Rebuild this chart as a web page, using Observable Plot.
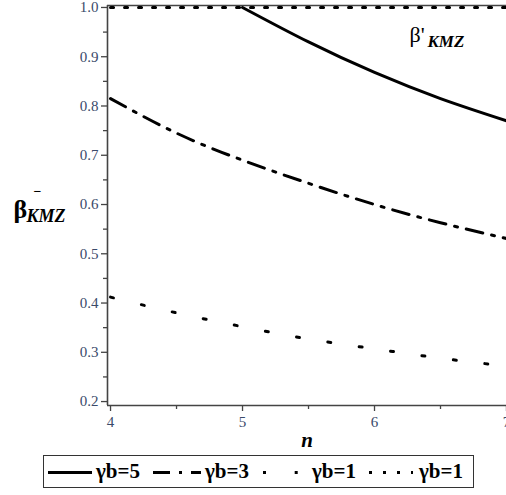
<!DOCTYPE html>
<html>
<head>
<meta charset="utf-8">
<script src="https://cdn.jsdelivr.net/npm/d3@7"></script>
<script src="https://cdn.jsdelivr.net/npm/@observablehq/plot@0.6"></script>
<style>
  html, body { margin: 0; padding: 0; background: #fff; }
  #wrap { position: relative; width: 506px; height: 495px; overflow: hidden; }
  #legend { position: absolute; left: 43px; top: 455px; width: 429px; height: 31px;
            border: 1.5px solid #333; background: #fff; }
  #legend .lab { position: absolute; top: 1px; line-height: 28px; font-size: 21px; font-weight: bold;
            font-family: "Liberation Serif", "Times New Roman", serif; color: #000; white-space: nowrap; }
  #legend svg { position: absolute; left: 0; top: 0; }
</style>
</head>
<body>
<div id="wrap"><div id="chart"></div><div id="legend"></div></div>
<script>
// ---- data ----
const nGrid = [4, 4.5, 5, 5.5, 6, 6.5, 7];
const nSolid = [5, 5.5, 6, 6.5, 7];
const gb5 = [1.0, 0.93, 0.868, 0.815, 0.77];            // γb=5 (solid)
const gb3 = [0.815, 0.745, 0.690, 0.643, 0.600, 0.563, 0.531]; // γb=3 (dash-dot)
const gb1 = [0.412, 0.380, 0.352, 0.327, 0.307, 0.288, 0.272]; // γb=1 (sparse dots)
const gb1flat = [1.0, 1.0, 1.0, 1.0, 1.0, 1.0, 1.0];     // γb=1 (dense dots, β'KMZ)
const yTicks = [0.2, 0.3, 0.4, 0.5, 0.6, 0.7, 0.8, 0.9, 1.0];
const yMinor = [0.25, 0.35, 0.45, 0.55, 0.65, 0.75, 0.85, 0.95];
const xTicks = [4, 5, 6, 7];
const xMinor = [4.5, 5.5, 6.5];
const xDomain = [3.977, 7.0];
const yDomain = [0.192, 1.004];
const legendLabels = ["γb=5", "γb=3", "γb=1", "γb=1"];

const toRows = (xs, ys) => xs.map((n, i) => ({n, v: ys[i]}));
const sSolid = toRows(nSolid, gb5);
const sDash = toRows(nGrid, gb3);
const sDot = toRows(nGrid, gb1);
const sFlat = toRows(nGrid, gb1flat);

const SERIF = "'Liberation Serif', 'Times New Roman', serif";
const tickText = "#3a4a6a";
const axisCol = "#444";

const dashes = ["none", "17 9 3 9", "3 28.7", "3 11"];

const chart = Plot.plot({
  width: 506, height: 453,
  marginLeft: 107, marginRight: 0, marginTop: 5, marginBottom: 48,
  x: {domain: xDomain},
  y: {domain: yDomain},
  style: {background: "white", overflow: "visible", fontFamily: SERIF},
  marks: [
    Plot.axisY({ticks: yTicks, tickSize: 6, tickPadding: 3, tickFormat: d3.format(".1f"),
      fontSize: 15, stroke: axisCol, fill: tickText, strokeWidth: 1.3, label: null}),
    Plot.axisY({ticks: yMinor, tickSize: 4, tickFormat: () => "", stroke: axisCol, strokeWidth: 1.3, label: null}),
    Plot.axisX({ticks: xTicks, tickSize: 6, tickPadding: 5, tickFormat: d3.format("d"),
      fontSize: 15, stroke: axisCol, fill: tickText, strokeWidth: 1.3, label: null}),
    Plot.axisX({ticks: xMinor, tickSize: 4, tickFormat: () => "", stroke: axisCol, strokeWidth: 1.3, label: null}),
    Plot.ruleX([xDomain[0]], {stroke: axisCol, strokeWidth: 1.6}),
    Plot.ruleY([yDomain[0]], {stroke: axisCol, strokeWidth: 1.6}),
    Plot.ruleY([yDomain[1]], {stroke: axisCol, strokeWidth: 1.6}),
    Plot.line(sFlat, {x: "n", y: "v", stroke: "black", strokeWidth: 3, strokeDasharray: dashes[3], clip: true}),
    Plot.line(sSolid, {x: "n", y: "v", curve: "natural", stroke: "black", strokeWidth: 3, clip: true}),
    Plot.line(sDash, {x: "n", y: "v", curve: "natural", stroke: "black", strokeWidth: 3, strokeDasharray: dashes[1], clip: true}),
    Plot.line(sDot, {x: "n", y: "v", curve: "natural", stroke: "black", strokeWidth: 3, strokeDasharray: dashes[2], clip: true}),
    // axis label n
    Plot.text(["n"], {frameAnchor: "bottom", dy: 41, fontSize: 21, fontWeight: "bold", fontStyle: "italic", fill: "black"}),
    // y label  β̄_KMZ
    Plot.text(["β"], {frameAnchor: "left", textAnchor: "start", dx: -94, dy: 4, fontSize: 26, fontWeight: "bold", fill: "black"}),
    Plot.text(["−"], {frameAnchor: "left", textAnchor: "start", dx: -74, dy: -14, fontSize: 14, fontWeight: "bold", fill: "black"}),
    Plot.text(["KMZ"], {frameAnchor: "left", textAnchor: "start", dx: -81, dy: 11, fontSize: 18, fontWeight: "bold", fontStyle: "italic", fill: "black"}),
    // annotation β'_KMZ
    Plot.text(["β'"], {frameAnchor: "top-right", textAnchor: "start", dx: -97, dy: 21, fontSize: 22, fill: "black"}),
    Plot.text(["KMZ"], {frameAnchor: "top-right", textAnchor: "start", dx: -79, dy: 29, fontSize: 17, fontWeight: "bold", fontStyle: "italic", fill: "black"})
  ]
});
document.getElementById("chart").appendChild(chart);

// ---- legend below the plot (HTML box, SVG line samples) ----
const legend = d3.select("#legend");
const lsv = legend.append("svg").attr("width", 429).attr("height", 31);
const items = [
  {x0: 4, x1: 48, tx: 52},
  {x0: 109, x1: 157, tx: 161},
  {x0: 219, x1: 257, tx: 268},
  {x0: 325, x1: 369, tx: 375}
];
items.forEach((it, i) => {
  lsv.append("line").attr("x1", it.x0).attr("x2", it.x1).attr("y1", 16.5).attr("y2", 16.5)
    .attr("stroke", "black").attr("stroke-width", 3)
    .attr("stroke-dasharray", dashes[i] === "none" ? null : dashes[i]);
  legend.append("span").attr("class", "lab").style("left", it.tx + "px").text(legendLabels[i]);
});
</script>
</body>
</html>
